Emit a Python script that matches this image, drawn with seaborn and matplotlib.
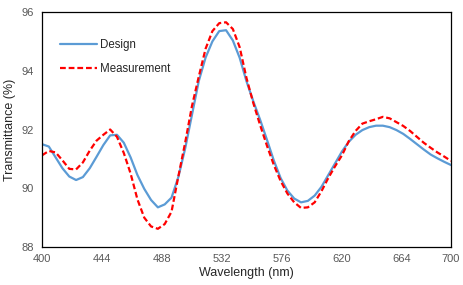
import matplotlib
matplotlib.use("Agg")
import matplotlib.pyplot as plt
import seaborn as sns
import pandas as pd

wavelength = list(range(400, 701, 5))
design = [91.50, 91.42, 91.05, 90.68, 90.40, 90.28, 90.38, 90.68, 91.07, 91.47,
          91.80, 91.82, 91.55, 91.05, 90.45, 89.98, 89.60, 89.35, 89.45, 89.68,
          90.38, 91.35, 92.50, 93.65, 94.45, 95.00, 95.35, 95.38, 95.03, 94.44,
          93.64, 92.96, 92.33, 91.65, 90.95, 90.35, 89.92, 89.65, 89.52, 89.57,
          89.75, 90.05, 90.45, 90.85, 91.25, 91.58, 91.82, 91.98, 92.08, 92.13,
          92.13, 92.08, 91.98, 91.85, 91.68, 91.50, 91.32, 91.15, 91.02, 90.90,
          90.79]
measurement = [91.12, 91.27, 91.22, 90.95, 90.66, 90.64, 90.88, 91.28, 91.62, 91.82,
               92.00, 91.75, 91.20, 90.50, 89.62, 89.00, 88.70, 88.62, 88.78, 89.20,
               90.40, 91.55, 92.80, 93.80, 94.75, 95.35, 95.62, 95.65, 95.42, 94.80,
               93.75, 92.90, 92.15, 91.45, 90.80, 90.25, 89.82, 89.52, 89.33, 89.35,
               89.52, 89.90, 90.35, 90.75, 91.12, 91.60, 91.95, 92.20, 92.28, 92.35,
               92.43, 92.38, 92.25, 92.12, 91.95, 91.75, 91.55, 91.38, 91.22, 91.08,
               90.93]
x_ticks = [400, 444, 488, 532, 576, 620, 664, 700]
y_ticks = [88, 90, 92, 94, 96]

sns.set_style("white")
plt.rcParams['font.family'] = ['Liberation Sans', 'DejaVu Sans']

fig = plt.figure(figsize=(4.64, 2.85), dpi=100)
ax = fig.add_axes([42/464, 1-247/285, (451-42)/464, (247-12)/285])

df = pd.DataFrame({"Wavelength": wavelength, "Design": design, "Measurement": measurement})
sns.lineplot(data=df, x="Wavelength", y="Design", ax=ax, color="#5B9BD5",
             linewidth=1.6, label="Design")
sns.lineplot(data=df, x="Wavelength", y="Measurement", ax=ax, color="#FF0000",
             linewidth=1.6, linestyle=(0, (2.6, 1.3)), label="Measurement")

ax.set_xlim(400, 700)
ax.set_ylim(88, 96)
ax.set_xticks(x_ticks)
ax.set_yticks(y_ticks)
ax.set_xlabel("Wavelength (nm)", fontsize=9, color="#262626", labelpad=2)
ax.set_ylabel("Transmittance (%)", fontsize=9, color="#262626", labelpad=4)
ax.tick_params(axis='x', direction='in', length=3, width=0.8, labelsize=8,
               labelcolor="#595959", pad=5)
ax.tick_params(axis='y', direction='out', length=3, width=0.8, labelsize=8,
               labelcolor="#595959", pad=3)
for s in ax.spines.values():
    s.set_color("black")
    s.set_linewidth(0.9)

leg = ax.legend(loc='upper left', bbox_to_anchor=(0.045, 0.885), frameon=False,
                fontsize=8.3, handlelength=3.2, handletextpad=0.2,
                labelspacing=1.05, borderpad=0, borderaxespad=0)

fig.savefig("out.png", dpi=100)
